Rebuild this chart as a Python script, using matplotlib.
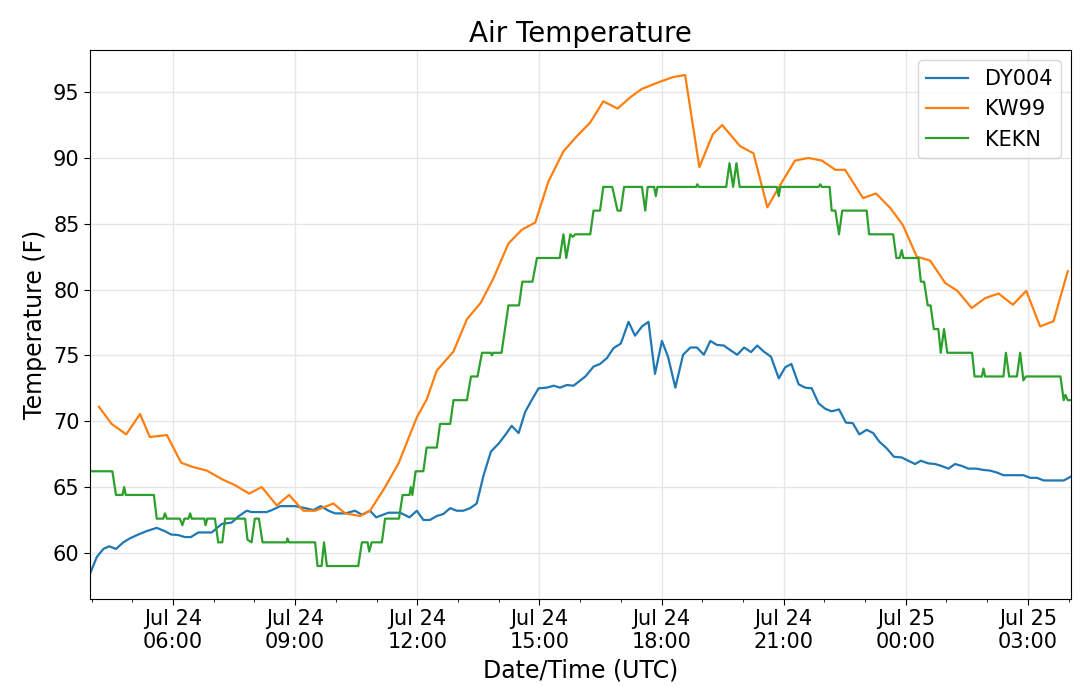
import matplotlib
matplotlib.use("Agg")
import matplotlib.pyplot as plt
import matplotlib.dates as mdates
import pandas as pd

# hours since 2019-07-24 00:00 UTC, temperatures in F
dy004_hours = [3.96, 4.13, 4.29, 4.43, 4.60, 4.78, 4.94, 5.15, 5.35, 5.60, 5.80, 5.95,
               6.13, 6.29, 6.44, 6.62, 6.95, 7.20, 7.44, 7.62, 7.81, 7.93, 8.30, 8.43,
               8.63, 9.00, 9.24, 9.45, 9.63, 9.82, 9.98, 10.23, 10.47, 10.64, 10.84, 10.99,
               11.29, 11.58, 11.81, 11.99, 12.15, 12.31, 12.48, 12.64, 12.81, 12.97, 13.13, 13.30,
               13.46, 13.63, 13.81, 14.00, 14.16, 14.32, 14.49, 14.65, 14.81, 14.98, 15.18, 15.35,
               15.51, 15.67, 15.84, 16.13, 16.33, 16.49, 16.66, 16.82, 17.00, 17.19, 17.35, 17.52,
               17.68, 17.84, 18.01, 18.16, 18.34, 18.53, 18.71, 18.87, 19.04, 19.20, 19.36, 19.53,
               19.69, 19.86, 20.03, 20.20, 20.35, 20.51, 20.69, 20.88, 21.04, 21.19, 21.37, 21.53,
               21.69, 21.86, 22.02, 22.18, 22.36, 22.53, 22.70, 22.86, 23.04, 23.20, 23.35, 23.53,
               23.71, 23.90, 24.06, 24.23, 24.37, 24.55, 24.72, 24.88, 25.05, 25.21, 25.38, 25.54,
               25.73, 25.91, 26.07, 26.24, 26.40, 26.56, 26.73, 26.89, 27.06, 27.22, 27.39, 27.55,
               27.71, 27.88, 28.06]
dy004_temp = [58.4, 59.7, 60.3, 60.5, 60.3, 60.8, 61.1, 61.4, 61.65, 61.9, 61.65, 61.4,
              61.35, 61.2, 61.2, 61.55, 61.55, 62.2, 62.3, 62.8, 63.2, 63.1, 63.1, 63.25,
              63.55, 63.55, 63.4, 63.25, 63.55, 63.2, 63.0, 63.0, 63.2, 62.9, 63.2, 62.7,
              63.05, 63.05, 62.7, 63.2, 62.5, 62.5, 62.8, 62.95, 63.4, 63.2, 63.2, 63.4,
              63.75, 65.9, 67.7, 68.3, 68.95, 69.65, 69.1, 70.7, 71.6, 72.5, 72.55, 72.7,
              72.55, 72.75, 72.7, 73.4, 74.15, 74.35, 74.8, 75.55, 75.9, 77.55, 76.5, 77.2,
              77.55, 73.6, 76.1, 74.9, 72.55, 75.05, 75.6, 75.6, 75.05, 76.1, 75.8, 75.75,
              75.4, 75.05, 75.6, 75.25, 75.75, 75.3, 74.9, 73.25, 74.1, 74.35, 72.8, 72.55,
              72.5, 71.35, 70.95, 70.75, 70.9, 69.9, 69.85, 69.0, 69.35, 69.1, 68.45, 67.95,
              67.3, 67.25, 67.0, 66.75, 67.0, 66.8, 66.75, 66.6, 66.4, 66.75, 66.6, 66.4,
              66.4, 66.3, 66.25, 66.1, 65.9, 65.9, 65.9, 65.9, 65.7, 65.7, 65.5, 65.5,
              65.5, 65.5, 65.8]

kw99_hours = [4.18, 4.49, 4.85, 5.19, 5.43, 5.85, 6.20, 6.46, 6.83, 7.20, 7.52, 7.87,
              8.18, 8.55, 8.85, 9.20, 9.49, 9.94, 10.23, 10.59, 10.84, 11.19, 11.54, 11.99,
              12.23, 12.48, 12.89, 13.22, 13.56, 13.87, 14.24, 14.57, 14.90, 15.22, 15.59, 15.92,
              16.25, 16.57, 16.92, 17.23, 17.52, 17.97, 18.29, 18.58, 18.93, 19.26, 19.49, 19.93,
              20.26, 20.60, 20.92, 21.28, 21.61, 21.94, 22.27, 22.51, 22.95, 23.27, 23.62, 23.93,
              24.27, 24.60, 24.97, 25.27, 25.62, 25.95, 26.28, 26.63, 26.96, 27.30, 27.63, 27.98]
kw99_temp = [71.1, 69.8, 69.0, 70.55, 68.8, 68.95, 66.85, 66.55, 66.25, 65.6, 65.15, 64.5,
             65.0, 63.6, 64.4, 63.2, 63.2, 63.75, 63.0, 62.8, 63.2, 64.9, 66.8, 70.3,
             71.65, 73.85, 75.3, 77.75, 79.0, 80.85, 83.5, 84.55, 85.1, 88.2, 90.5, 91.65,
             92.7, 94.3, 93.75, 94.6, 95.25, 95.8, 96.15, 96.3, 89.3, 91.8, 92.5, 90.9,
             90.35, 86.25, 87.97, 89.8, 90.0, 89.8, 89.1, 89.1, 86.95, 87.3, 86.2, 84.9,
             82.5, 82.2, 80.5, 79.9, 78.6, 79.35, 79.7, 78.85, 79.9, 77.2, 77.6, 81.4]

kekn_hours = [3.96, 4.51, 4.60, 4.76, 4.80, 4.84, 5.53, 5.60, 5.76, 5.80, 5.85, 6.17,
              6.23, 6.28, 6.38, 6.42, 6.46, 6.77, 6.80, 6.84, 7.03, 7.11, 7.21, 7.28,
              7.77, 7.83, 7.93, 8.01, 8.11, 8.20, 8.79, 8.81, 8.85, 9.49, 9.55, 9.65,
              9.71, 9.78, 10.55, 10.64, 10.78, 10.82, 10.88, 11.13, 11.21, 11.55, 11.64, 11.81,
              11.84, 11.88, 11.96, 12.15, 12.23, 12.48, 12.56, 12.81, 12.89, 13.22, 13.32, 13.48,
              13.59, 13.81, 13.83, 13.87, 14.07, 14.24, 14.50, 14.58, 14.83, 14.94, 15.50, 15.59,
              15.66, 15.76, 15.82, 15.88, 16.25, 16.33, 16.49, 16.57, 16.79, 16.92, 17.00, 17.08,
              17.52, 17.60, 17.66, 17.82, 17.86, 17.90, 18.85, 18.88, 18.92, 19.59, 19.67, 19.76,
              19.84, 19.92, 20.83, 20.88, 20.92, 21.86, 21.90, 21.94, 22.13, 22.18, 22.27, 22.36,
              22.44, 23.04, 23.10, 23.69, 23.77, 23.85, 23.90, 23.94, 24.31, 24.37, 24.45, 24.54,
              24.61, 24.69, 24.80, 24.86, 24.94, 25.02, 25.63, 25.69, 25.87, 25.91, 25.95, 26.40,
              26.46, 26.54, 26.73, 26.81, 26.89, 26.95, 27.80, 27.88, 27.92, 27.98, 28.06]
kekn_temp = [66.2, 66.2, 64.4, 64.4, 65.0, 64.4, 64.4, 62.6, 62.6, 63.0, 62.6, 62.6,
             62.1, 62.6, 62.6, 63.0, 62.6, 62.6, 62.1, 62.6, 62.6, 60.8, 60.8, 62.6,
             62.6, 61.0, 60.8, 62.6, 62.6, 60.8, 60.8, 61.1, 60.8, 60.8, 59.0, 59.0,
             60.8, 59.0, 59.0, 60.8, 60.8, 60.1, 60.8, 60.8, 62.6, 62.6, 64.4, 64.4,
             65.0, 64.4, 66.2, 66.2, 68.0, 68.0, 69.8, 69.8, 71.6, 71.6, 73.4, 73.4,
             75.2, 75.2, 75.0, 75.2, 75.2, 78.8, 78.8, 80.6, 80.6, 82.4, 82.4, 84.2,
             82.4, 84.2, 84.0, 84.2, 84.2, 86.0, 86.0, 87.8, 87.8, 86.0, 86.0, 87.8,
             87.8, 86.0, 87.8, 87.8, 87.1, 87.8, 87.8, 88.0, 87.8, 87.8, 89.6, 87.8,
             89.6, 87.8, 87.8, 87.1, 87.8, 87.8, 88.0, 87.8, 87.8, 86.0, 86.0, 84.2,
             86.0, 86.0, 84.2, 84.2, 82.4, 82.4, 83.0, 82.4, 82.4, 80.6, 80.6, 78.8,
             78.8, 77.0, 77.0, 75.2, 77.0, 75.2, 75.2, 73.4, 73.4, 74.0, 73.4, 73.4,
             75.2, 73.4, 73.4, 75.2, 73.1, 73.4, 73.4, 71.6, 72.0, 71.6, 71.6]

start = pd.Timestamp("2019-07-24 00:00")


def to_times(hours):
    return start + pd.to_timedelta(hours, unit="h")


fig, ax = plt.subplots(figsize=(10.8, 6.86), dpi=100)
fig.subplots_adjust(left=0.0833, right=0.9917, top=0.927, bottom=0.127)

ax.plot(to_times(dy004_hours), dy004_temp, label="DY004", color="#1f77b4", lw=1.6)
ax.plot(to_times(kw99_hours), kw99_temp, label="KW99", color="#ff7f0e", lw=1.6)
ax.plot(to_times(kekn_hours), kekn_temp, label="KEKN", color="#2ca02c", lw=1.6)

all_hours = dy004_hours + kw99_hours + kekn_hours
ax.set_xlim(to_times([min(all_hours)])[0], to_times([max(all_hours)])[0])

ax.xaxis.set_major_locator(mdates.HourLocator(byhour=range(0, 24, 3)))
ax.xaxis.set_minor_locator(mdates.HourLocator())
ax.xaxis.set_major_formatter(mdates.DateFormatter("%b %d\n%H:%M"))
for lab in ax.get_xticklabels():
    lab.set_horizontalalignment("center")

ax.tick_params(axis="both", which="major", labelsize=15, length=4)
ax.tick_params(axis="x", which="minor", length=2.5)
ax.grid(True, which="major", color="#e6e6e6", lw=1)
ax.set_axisbelow(True)

ax.set_title("Air Temperature", fontsize=20)
ax.set_xlabel("Date/Time (UTC)", fontsize=17)
ax.set_ylabel("Temperature (F)", fontsize=17)
ax.legend(loc="upper right", fontsize=15)

fig.savefig("out.png", dpi=100)
